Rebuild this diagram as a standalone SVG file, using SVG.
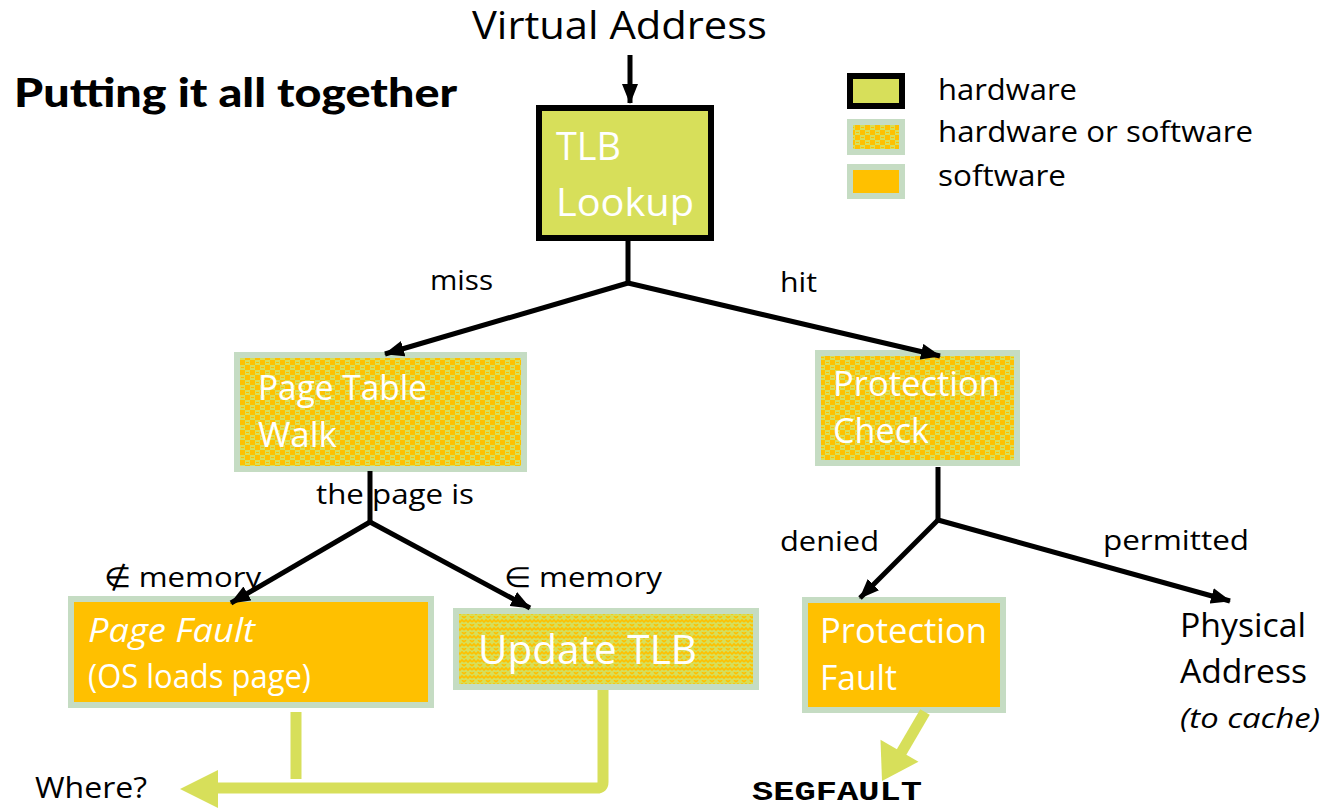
<svg xmlns="http://www.w3.org/2000/svg" width="1338" height="808" viewBox="0 0 1338 808">
<style>
.t{font-family:"Open Sans","Liberation Sans",sans-serif;fill:#000}
.w{font-family:"Open Sans","Liberation Sans",sans-serif;fill:#fff}
.it{font-style:italic}
.hw{fill:#D7DF5A;stroke:#000;stroke-width:6}
.hs{fill:url(#chk);stroke:#C5DCC3;stroke-width:6}
.sw{fill:#FFC000;stroke:#C5DCC3;stroke-width:6}
.c{stroke:#000;stroke-width:5;fill:none}
.g{stroke:#D7DF5A;stroke-width:11;fill:none}
</style>
<defs>
<pattern id="chk" width="10" height="10" patternUnits="userSpaceOnUse">
<rect width="10" height="10" fill="#D7DF5A"/>
<rect x="0" y="0" width="5" height="5" fill="#FFC000"/>
<rect x="5" y="5" width="5" height="5" fill="#FFC000"/>
<rect x="6" y="2" width="3" height="1" fill="#FFC000"/>
<rect x="1" y="7" width="3" height="1" fill="#FFC000"/>
</pattern>
<pattern id="weave" width="8" height="8" patternUnits="userSpaceOnUse">
<rect width="8" height="8" fill="#D7DF5A"/>
<path d="M0,6 L2,4 L4,6 L6,4 L8,6 M0,2 L2,0 M6,0 L8,2" stroke="#FFC000" stroke-width="1.6" fill="none"/>
</pattern>
<marker id="ah" viewBox="0 0 20 16" refX="19" refY="8" markerWidth="20" markerHeight="16" markerUnits="userSpaceOnUse" orient="auto">
<path d="M0,0 L20,8 L0,16 Z" fill="#000"/>
</marker>
</defs>

<text class="t" x="472" y="39" font-size="38" textLength="295" lengthAdjust="spacingAndGlyphs">Virtual Address</text>
<text x="14" y="107" font-family="Lato,'Noto Sans',sans-serif" font-weight="900" font-size="40" textLength="443" lengthAdjust="spacingAndGlyphs">Putting it all together</text>

<g id="legend">
<rect class="hw" x="850" y="76" width="52" height="30"/>
<rect class="hs" x="850" y="122" width="52" height="30"/>
<rect class="sw" x="850" y="167" width="52" height="29"/>
<text class="t" x="938" y="100" font-size="30" textLength="139" lengthAdjust="spacingAndGlyphs">hardware</text>
<text class="t" x="938" y="142" font-size="30" textLength="315" lengthAdjust="spacingAndGlyphs">hardware or software</text>
<text class="t" x="938" y="186" font-size="30" textLength="128" lengthAdjust="spacingAndGlyphs">software</text>
</g>

<g id="tlb-lookup">
<rect class="hw" x="539" y="108" width="172" height="130"/>
<text class="w" x="556" y="160" font-size="38" textLength="65" lengthAdjust="spacingAndGlyphs">TLB</text>
<text class="w" x="556" y="216" font-size="38" textLength="138" lengthAdjust="spacingAndGlyphs">Lookup</text>
</g>

<g id="page-table-walk">
<rect class="hs" x="237" y="355" width="287" height="114"/>
<text class="w" x="258" y="400" font-size="34" textLength="169" lengthAdjust="spacingAndGlyphs">Page Table</text>
<text class="w" x="258" y="447" font-size="34" textLength="79" lengthAdjust="spacingAndGlyphs">Walk</text>
</g>

<g id="protection-check">
<rect class="hs" x="818" y="353" width="199" height="110"/>
<text class="w" x="833" y="396" font-size="34" textLength="167" lengthAdjust="spacingAndGlyphs">Protection</text>
<text class="w" x="833" y="443" font-size="34" textLength="96" lengthAdjust="spacingAndGlyphs">Check</text>
</g>

<g id="page-fault">
<rect class="sw" x="71" y="599" width="360" height="106"/>
<text class="w it" x="88" y="642" font-size="32" textLength="167" lengthAdjust="spacingAndGlyphs">Page Fault</text>
<text class="w" x="88" y="688" font-size="32" textLength="223" lengthAdjust="spacingAndGlyphs">(OS loads page)</text>
</g>

<g id="update-tlb">
<rect x="456" y="611" width="300" height="76" fill="url(#weave)" stroke="#C5DCC3" stroke-width="6"/>
<text class="w" x="478" y="664" font-size="40" textLength="219" lengthAdjust="spacingAndGlyphs">Update TLB</text>
</g>

<g id="protection-fault">
<rect class="sw" x="805" y="600" width="198" height="110"/>
<text class="w" x="820" y="643" font-size="34" textLength="167" lengthAdjust="spacingAndGlyphs">Protection</text>
<text class="w" x="820" y="690" font-size="34" textLength="77" lengthAdjust="spacingAndGlyphs">Fault</text>
</g>

<g id="physical-address">
<text class="t" x="1180" y="637" font-size="32" textLength="126" lengthAdjust="spacingAndGlyphs">Physical</text>
<text class="t" x="1180" y="683" font-size="32" textLength="127" lengthAdjust="spacingAndGlyphs">Address</text>
<text class="t it" x="1180" y="728" font-size="28" textLength="140" lengthAdjust="spacingAndGlyphs">(to cache)</text>
</g>

<g id="where">
<text class="t" x="35" y="798" font-size="30" textLength="112" lengthAdjust="spacingAndGlyphs">Where?</text>
</g>

<g id="segfault">
<text x="752" y="800" font-family="'Liberation Mono','Courier New',monospace" font-weight="bold" font-size="27" textLength="170" lengthAdjust="spacingAndGlyphs">SEGFAULT</text>
</g>

<g id="connectors">
<path class="c" d="M630,55 V103" marker-end="url(#ah)"/>
<path class="c" d="M628,241 V283"/>
<path class="c" d="M628,283 L385,354" marker-end="url(#ah)"/>
<path class="c" d="M628,283 L940,356" marker-end="url(#ah)"/>
<path class="c" d="M370,471 V522"/>
<path class="c" d="M370,522 L231,603" marker-end="url(#ah)"/>
<path class="c" d="M370,522 L530,608" marker-end="url(#ah)"/>
<path class="c" d="M938,467 V520"/>
<path class="c" d="M938,520 L860,598" marker-end="url(#ah)"/>
<path class="c" d="M938,520 L1230,601" marker-end="url(#ah)"/>
<path class="g" d="M296,712 V779"/>
<path class="g" d="M603,690 V782 Q603,788 597,788 H214"/>
<path d="M180,789 L218,770 L218,808 Z" fill="#D7DF5A"/>
<path class="g" d="M925,712 L901,753"/>
<path d="M882,781 L918.5,761.7 L880.5,739.7 Z" fill="#D7DF5A"/>
<text class="t" x="430" y="290" font-size="28" textLength="63" lengthAdjust="spacingAndGlyphs">miss</text>
<text class="t" x="780" y="292" font-size="28" textLength="37" lengthAdjust="spacingAndGlyphs">hit</text>
<text class="t" x="316" y="504" font-size="28" textLength="158" lengthAdjust="spacingAndGlyphs">the page is</text>
<text class="t" x="104" y="587" font-size="28" textLength="157" lengthAdjust="spacingAndGlyphs">∉ memory</text>
<text class="t" x="504" y="587" font-size="28" textLength="158" lengthAdjust="spacingAndGlyphs">∈ memory</text>
<text class="t" x="780" y="551" font-size="28" textLength="99" lengthAdjust="spacingAndGlyphs">denied</text>
<text class="t" x="1103" y="550" font-size="28" textLength="146" lengthAdjust="spacingAndGlyphs">permitted</text>
</g>
</svg>
